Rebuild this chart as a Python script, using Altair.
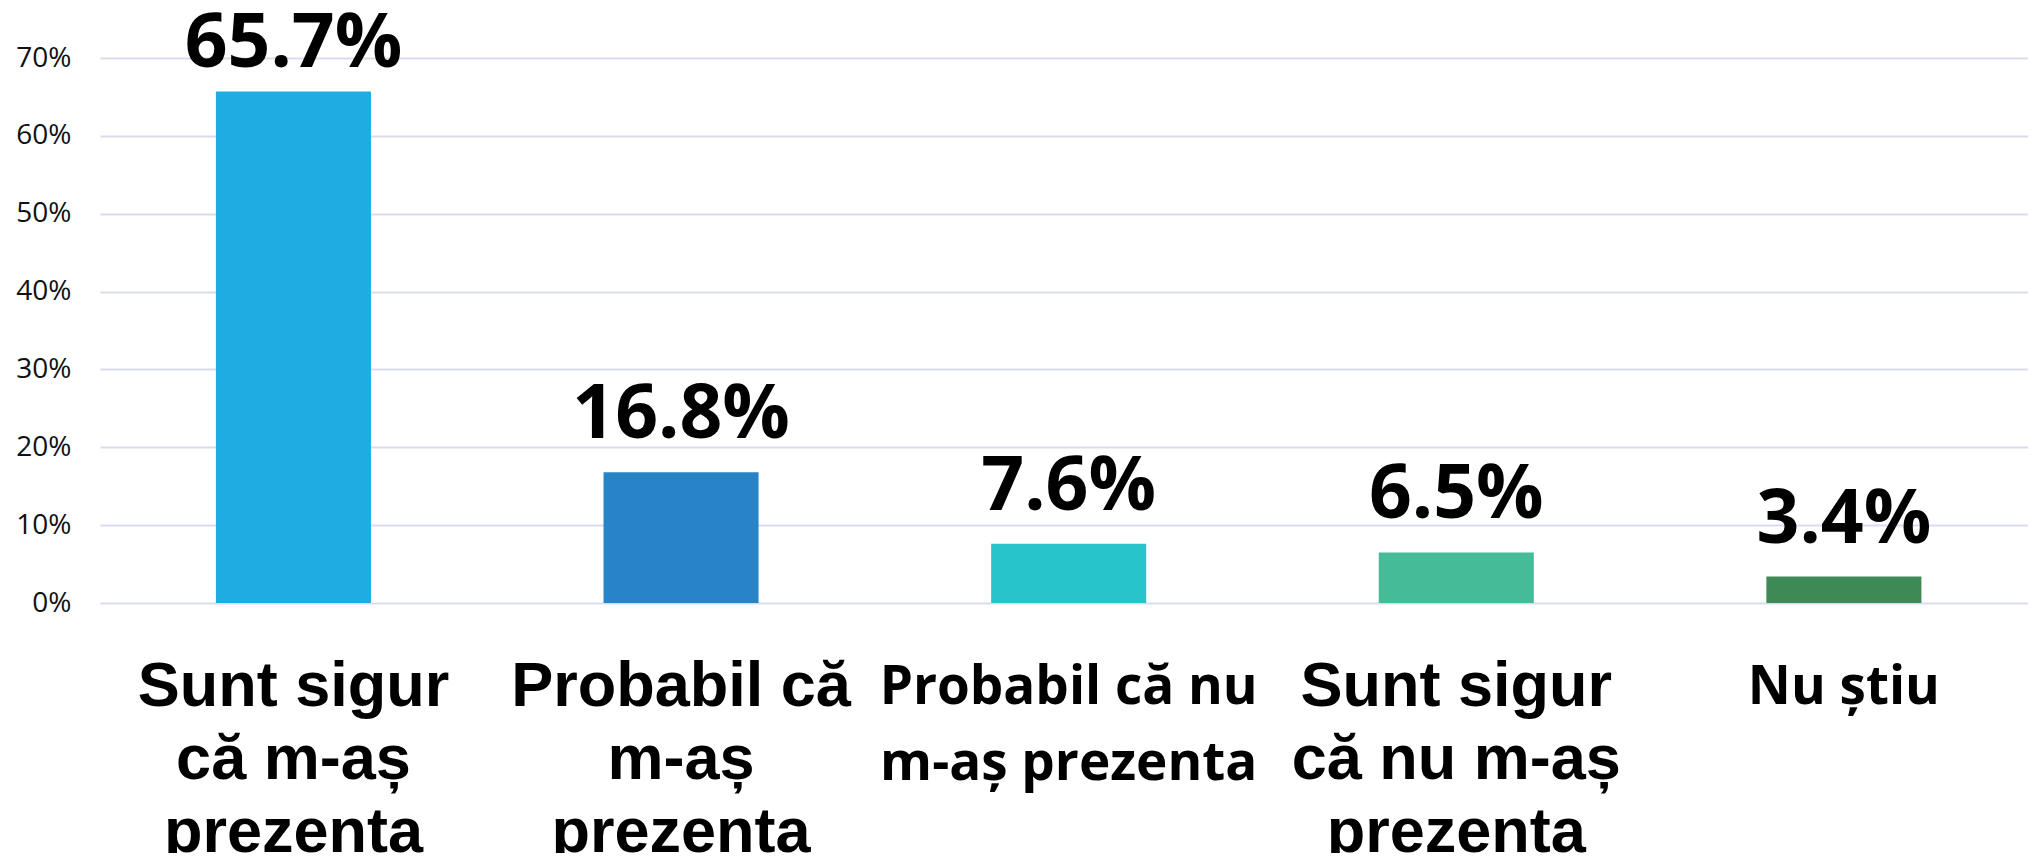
import altair as alt
import pandas as pd

categories = [
    "Sunt sigur că m-aș prezenta",
    "Probabil că m-aș prezenta",
    "Probabil că nu m-aș prezenta",
    "Sunt sigur că nu m-aș prezenta",
    "Nu știu",
]
label_lines = [
    ["Sunt sigur", "că m-aș", "prezenta"],
    ["Probabil că", "m-aș", "prezenta"],
    ["Probabil că nu", "m-aș prezenta"],
    ["Sunt sigur", "că nu m-aș", "prezenta"],
    ["Nu știu"],
]
values = [0.657, 0.168, 0.076, 0.065, 0.034]
value_labels = ["65.7%", "16.8%", "7.6%", "6.5%", "3.4%"]
colors = ["#1FACE2", "#2884C7", "#28C4CC", "#45BB98", "#3E8A56"]
label_style = ["wide", "wide", "small", "wide", "small"]
y_ticks = [0, 0.1, 0.2, 0.3, 0.4, 0.5, 0.6, 0.7]

df = pd.DataFrame({
    "category": categories,
    "value": values,
    "vlabel": value_labels,
    "label": ["\n".join(l) for l in label_lines],
    "style": label_style,
})

x_enc = alt.X("category:N", sort=categories,
              scale=alt.Scale(paddingInner=0.6, paddingOuter=0.287, align=0.521),
              axis=None)

bars = alt.Chart(df).mark_bar().encode(
    x=x_enc,
    y=alt.Y("value:Q", scale=alt.Scale(domain=[0, 0.7], nice=False),
            axis=alt.Axis(values=y_ticks, format=".0%", title=None,
                          labelFont="Open Sans", labelFontSize=28,
                          labelColor="#111111", labelPadding=29,
                          domain=False, ticks=False, grid=True,
                          gridColor="#D9DCEB", gridWidth=2)),
    color=alt.Color("category:N", sort=categories,
                    scale=alt.Scale(domain=categories, range=colors), legend=None),
)

vtext = alt.Chart(df).transform_calculate(
    ly="min(datum.value + 0.0437, 0.688)"
).mark_text(
    font="Open Sans", fontWeight="bold", fontSize=75, color="#000000",
    baseline="alphabetic", align="center"
).encode(
    x=x_enc,
    y=alt.Y("ly:Q"),
    text="vlabel:N",
)

wide_labels = alt.Chart(df).transform_filter(
    "datum.style == 'wide'"
).mark_text(
    font="Liberation Sans", fontWeight="bold", fontSize=63, color="#000000",
    baseline="alphabetic", align="center", lineBreak="\n", lineHeight=73
).encode(
    x=x_enc,
    y=alt.value(648),
    text="label:N",
)

small_labels = alt.Chart(df).transform_filter(
    "datum.style == 'small'"
).mark_text(
    font="Open Sans", fontWeight="bold", fontSize=53, color="#000000",
    baseline="alphabetic", align="center", lineBreak="\n", lineHeight=76
).encode(
    x=x_enc,
    y=alt.value(646),
    text="label:N",
)

chart = alt.layer(bars, vtext, wide_labels, small_labels).properties(
    width=1928, height=545,
    padding={"left": 92, "top": 50, "right": 0, "bottom": 250},
    autosize=alt.AutoSizeParams(type="none"),
).configure_view(stroke=None)

chart.save("out.html", embed_options={"renderer": "svg", "actions": False})
